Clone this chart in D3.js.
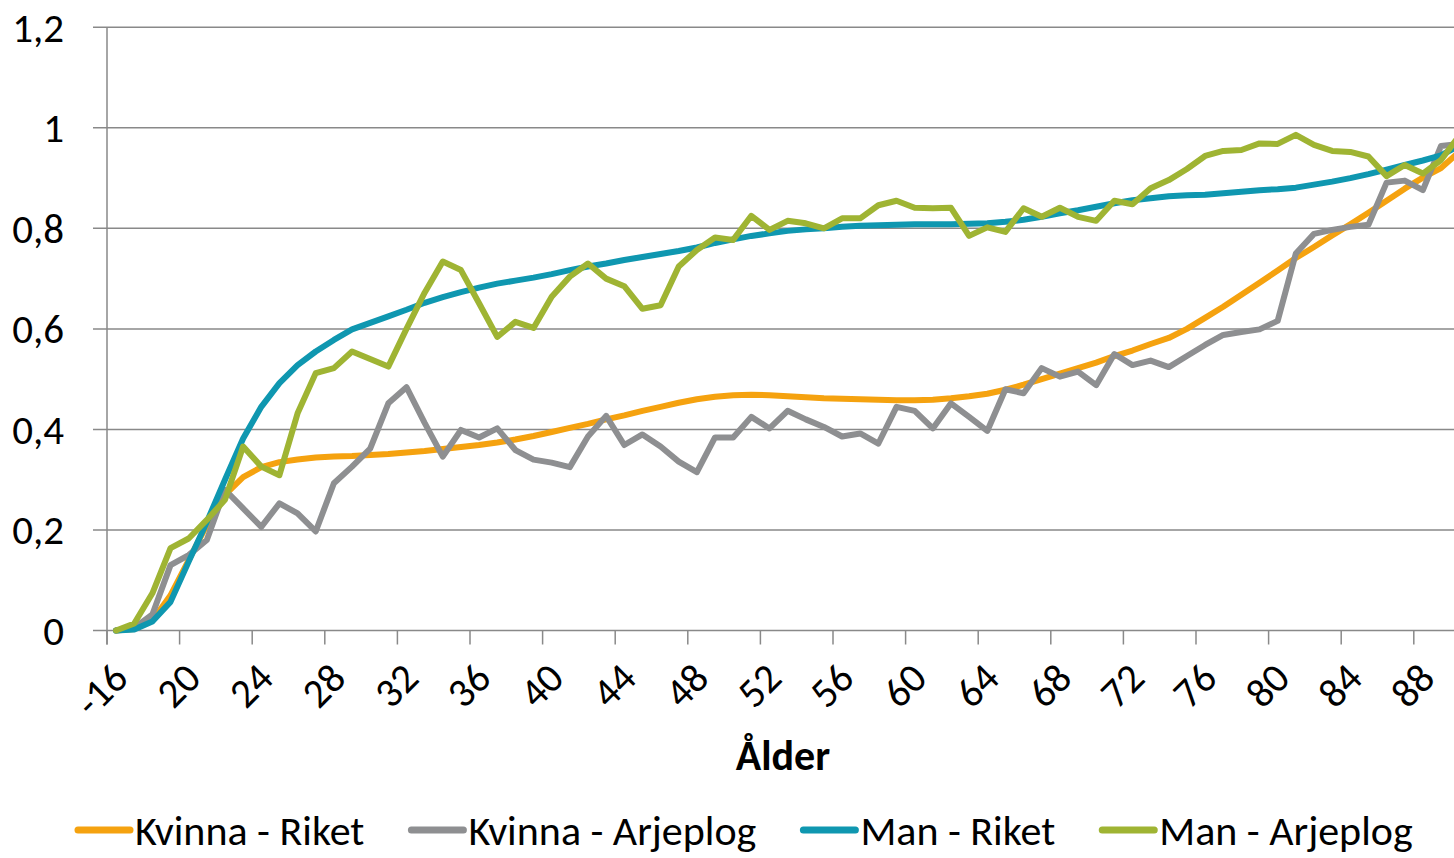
<!DOCTYPE html>
<html>
<head>
<meta charset="utf-8">
<script src="https://cdn.jsdelivr.net/npm/d3@7"></script>
<style>
  body { margin: 0; background: #fff; }
  svg text { font-family: Calibri, Carlito, "Open Sans", sans-serif; fill: #000; }
</style>
</head>
<body>
<div id="grafico"></div>
<script>
// ålder: "-16", 17 ... 90
const edades = ["-16"].concat(d3.range(17, 91).map(String));

const kvinnaRiket = [0.000,0.003,0.020,0.070,0.140,0.210,0.270,0.305,0.325,0.335,
  0.340,0.344,0.346,0.347,0.349,0.351,0.354,0.357,0.361,0.365,
  0.369,0.374,0.380,0.387,0.395,0.403,0.411,0.420,0.428,0.437,
  0.445,0.453,0.460,0.465,0.468,0.469,0.468,0.466,0.464,0.462,
  0.461,0.460,0.459,0.458,0.458,0.459,0.462,0.466,0.471,0.479,
  0.489,0.500,0.511,0.522,0.533,0.546,0.557,0.570,0.582,0.600,
  0.622,0.644,0.668,0.692,0.716,0.741,0.763,0.786,0.808,0.831,
  0.855,0.879,0.901,0.920,0.952];

const kvinnaArjeplog = [0.000,0.005,0.032,0.130,0.150,0.180,0.280,0.243,0.206,0.253,
  0.233,0.197,0.293,0.326,0.362,0.452,0.484,0.413,0.346,0.399,
  0.384,0.402,0.359,0.340,0.334,0.325,0.386,0.427,0.369,0.390,
  0.366,0.336,0.315,0.384,0.384,0.425,0.402,0.437,0.420,0.405,
  0.386,0.392,0.372,0.445,0.437,0.402,0.452,0.425,0.397,0.480,
  0.472,0.522,0.505,0.515,0.488,0.550,0.528,0.537,0.524,0.546,
  0.568,0.588,0.594,0.599,0.616,0.750,0.789,0.797,0.803,0.807,
  0.891,0.895,0.876,0.964,0.968];

const manRiket = [0.000,0.002,0.018,0.057,0.137,0.216,0.300,0.382,0.445,0.492,
  0.528,0.555,0.578,0.599,0.612,0.625,0.638,0.652,0.663,0.673,
  0.682,0.690,0.696,0.702,0.709,0.717,0.724,0.730,0.737,0.743,
  0.749,0.755,0.762,0.771,0.778,0.785,0.790,0.795,0.798,0.800,
  0.803,0.805,0.806,0.807,0.808,0.808,0.808,0.809,0.810,0.813,
  0.817,0.823,0.830,0.836,0.843,0.850,0.856,0.860,0.864,0.866,
  0.867,0.870,0.873,0.876,0.878,0.881,0.887,0.893,0.900,0.908,
  0.917,0.926,0.935,0.945,0.965];

const manArjeplog = [0.000,0.014,0.074,0.164,0.183,0.220,0.260,0.366,0.326,0.309,
  0.432,0.512,0.522,0.555,0.540,0.525,0.600,0.672,0.734,0.717,
  0.651,0.584,0.614,0.602,0.664,0.704,0.730,0.700,0.685,0.640,
  0.647,0.724,0.757,0.782,0.777,0.825,0.797,0.815,0.810,0.800,
  0.820,0.820,0.846,0.855,0.841,0.840,0.841,0.785,0.802,0.793,
  0.840,0.823,0.841,0.823,0.815,0.855,0.848,0.880,0.896,0.918,
  0.944,0.954,0.956,0.969,0.968,0.986,0.966,0.954,0.952,0.943,
  0.904,0.926,0.909,0.936,0.984];

const yTicks = [0, 0.2, 0.4, 0.6, 0.8, 1, 1.2];

const serier = [
  { namn: "Kvinna - Riket", farg: "#f5a20f", varden: kvinnaRiket },
  { namn: "Kvinna - Arjeplog", farg: "#8e8f91", varden: kvinnaArjeplog },
  { namn: "Man - Riket", farg: "#0f97b0", varden: manRiket },
  { namn: "Man - Arjeplog", farg: "#9fb433", varden: manArjeplog }
];

const width = 1454;
const height = 858;
const grid = "#898989";
const sv = d3.formatLocale({ decimal: ",", thousands: " ", grouping: [3], currency: ["", " kr"] });
const fmt = sv.format(".1~f");

let svg = d3.select("#grafico").append("svg")
  .attr("width", width)
  .attr("height", height)
  .style("display", "block");

svg.append("rect").attr("width", width).attr("height", height).attr("fill", "#fff");

const x = d3.scaleBand()
  .domain(edades)
  .range([107, 107 + edades.length * 18.15])
  .padding(0);
const bw = x.bandwidth();

const y = d3.scaleLinear().domain([0, 1.2]).range([630.5, 27.3]);

// stödlinjer
svg.selectAll(".grid")
  .data(yTicks)
  .join("line")
  .attr("class", "grid")
  .attr("x1", 93).attr("x2", width)
  .attr("y1", d => y(d)).attr("y2", d => y(d))
  .attr("stroke", grid).attr("stroke-width", 1.5);

// y-axel
svg.append("line")
  .attr("x1", 107).attr("x2", 107)
  .attr("y1", y(1.2)).attr("y2", y(0) + 14)
  .attr("stroke", grid).attr("stroke-width", 1.5);

svg.selectAll(".ylab")
  .data(yTicks)
  .join("text")
  .attr("class", "ylab")
  .attr("x", 64)
  .attr("y", d => y(d))
  .attr("dy", "0.35em")
  .attr("text-anchor", "end")
  .style("font-size", "41px")
  .text(d => fmt(d));

// x-axel
let xAxis = svg.append("g")
  .attr("transform", `translate(0,${y(0)})`)
  .call(d3.axisBottom(x)
    .tickValues(edades.filter((d, i) => i % 4 == 0))
    .tickSize(14)
    .tickSizeOuter(0));

xAxis.select(".domain").remove();
xAxis.selectAll(".tick line")
  .attr("x1", -bw / 2).attr("x2", -bw / 2)
  .attr("stroke", grid).attr("stroke-width", 1.5);
xAxis.selectAll(".tick text")
  .attr("fill", "#000")
  .style("font-size", "41px")
  .attr("text-anchor", "end")
  .attr("y", 0).attr("dy", "0.35em")
  .attr("transform", "translate(4,40) rotate(-45)");
xAxis.attr("font-family", null).attr("font-size", null);

svg.append("text")
  .attr("x", 783)
  .attr("y", 770)
  .attr("text-anchor", "middle")
  .style("font-size", "42px")
  .style("font-weight", "bold")
  .text("Ålder");

// linjer
const linje = d3.line()
  .x((d, i) => x(edades[i]) + bw / 2)
  .y(d => y(d));

svg.selectAll(".serie")
  .data(serier)
  .join("path")
  .attr("class", "serie")
  .attr("d", d => linje(d.varden))
  .attr("fill", "none")
  .attr("stroke", d => d.farg)
  .attr("stroke-width", 6)
  .attr("stroke-linejoin", "round")
  .attr("stroke-linecap", "round");

// förklaring
let lx = 75;
const ly = 830;
serier.forEach(s => {
  let g = svg.append("g");
  g.append("line")
    .attr("x1", lx + 3).attr("x2", lx + 55)
    .attr("y1", ly).attr("y2", ly)
    .attr("stroke", s.farg).attr("stroke-width", 7)
    .attr("stroke-linecap", "round");
  let t = g.append("text")
    .attr("x", lx + 60)
    .attr("y", ly)
    .attr("dy", "0.35em")
    .style("font-size", "42px")
    .text(s.namn);
  lx += 60 + t.node().getComputedTextLength() + 44;
});
</script>
</body>
</html>
